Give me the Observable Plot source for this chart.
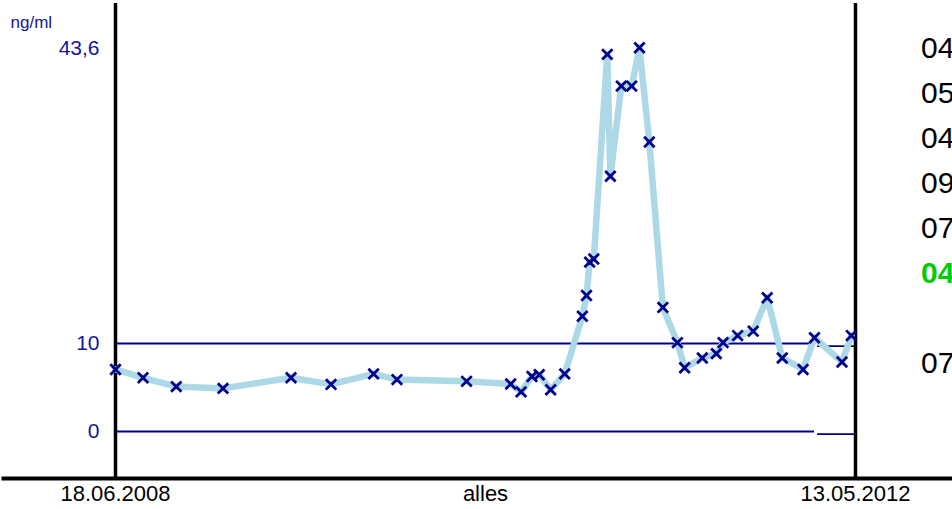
<!DOCTYPE html>
<html><head><meta charset="utf-8">
<script src="https://cdn.jsdelivr.net/npm/d3@7"></script>
<script src="https://cdn.jsdelivr.net/npm/@observablehq/plot@0.6"></script>
<style>
body{margin:0;background:#fff;font-family:Arial,"Liberation Sans",sans-serif;}
#wrap{position:relative;width:952px;height:509px;overflow:hidden;background:#fff;}
#wrap svg{position:absolute;left:0;top:0;}
#side{position:absolute;left:921px;top:25px;font-size:30px;line-height:45px;color:#000;white-space:pre;}
</style></head><body><div id="wrap"></div>
<script>
// ---- data ----
const dates = [
  "2008-06-18","2008-08-10","2008-10-13","2009-01-11","2009-05-22","2009-08-07","2009-10-28","2009-12-12",
  "2010-04-25","2010-07-19","2010-08-08","2010-08-29","2010-09-12","2010-10-04","2010-10-31","2010-12-04",
  "2010-12-12","2010-12-18","2010-12-26","2011-01-21","2011-01-27","2011-02-17","2011-03-09","2011-03-24",
  "2011-04-12","2011-05-08","2011-06-05","2011-06-19","2011-07-23","2011-08-19","2011-09-01","2011-09-29",
  "2011-10-29","2011-11-25","2011-12-24","2012-02-02","2012-02-24","2012-04-17","2012-05-05"
];
const values = [
  7.05, 6.1, 5.1, 4.9, 6.1, 5.35, 6.55, 5.9,
  5.7, 5.4, 4.5, 6.25, 6.45, 4.75, 6.55, 13.1,
  15.45, 19.25, 19.6, 42.85, 29.0, 39.25, 39.25, 43.6,
  32.9, 14.1, 10.1, 7.25, 8.35, 8.85, 10.1, 10.9,
  11.4, 15.2, 8.35, 7.05, 10.65, 7.9, 10.9
];
const xStart = "2008-06-18";
const xEnd = "2012-05-13";
const yTicks = [0, 10, 43.6];
const refStarts = ["2008-06-18", "2012-03-01"];
const refEnds = ["2012-02-24", "2012-05-13"];
const refLow = [0, -0.3];
const refHigh = [10, 9.7];
const unitLabel = "ng/ml";
const midLabel = "alles";
const sideLabels = ["04", "05", "04", "09", "07", "04", "", "07"];
const sideHighlight = [false, false, false, false, false, true, false, false];

// ---- build ----
const parse = d3.utcParse("%Y-%m-%d");
const data = dates.map((d, i) => ({date: parse(d), value: values[i]}));
const x0 = parse(xStart), x1 = parse(xEnd);
const xMid = new Date((+x0 + +x1) / 2);
const refs = refStarts.map((s, i) => ({x1: parse(s), x2: parse(refEnds[i]), lo: refLow[i], hi: refHigh[i]}));
const yFmt = d => d3.format(".1~f")(d).replace(".", ",");
const dFmt = d3.utcFormat("%d.%m.%Y");
const navy = "#000088";
const textBlue = "#15159a";
const font = "Arial, 'Liberation Sans', sans-serif";

const chart = Plot.plot({
  width: 952, height: 509,
  marginTop: 3, marginBottom: 31, marginLeft: 3, marginRight: 0,
  x: {type: "utc", domain: [x0, x1], range: [115, 855], axis: null},
  y: {domain: [0, 43.6], range: [431, 47.3], axis: null},
  style: {fontFamily: font, background: "white", overflow: "visible"},
  marks: [
    Plot.ruleY(refs, {x1: "x1", x2: "x2", y: "lo", stroke: navy, strokeWidth: 1.8}),
    Plot.ruleY(refs, {x1: "x1", x2: "x2", y: "hi", stroke: navy, strokeWidth: 1.8}),
    Plot.ruleX([x0, x1], {stroke: "black", strokeWidth: 3.5}),
    Plot.frame({anchor: "bottom", stroke: "black", strokeWidth: 4}),
    Plot.line(data, {x: "date", y: "value", stroke: "#ADD8E6", strokeWidth: 6.5, strokeLinejoin: "round"}),
    Plot.dot(data, {x: "date", y: "value", symbol: "times", r: 4.8, stroke: "#00008B", strokeWidth: 2.8}),
    Plot.text(yTicks, {x: () => x0, y: d => d, text: yFmt, dx: -16, textAnchor: "end", fill: textBlue, fontSize: 21}),
    Plot.text([unitLabel], {frameAnchor: "top-left", text: d => d, dx: 7, dy: 12, textAnchor: "start", fill: textBlue, fontSize: 17}),
    Plot.text([x0, x1], {x: d => d, text: dFmt, frameAnchor: "bottom", dy: 22, fill: "black", fontSize: 22}),
    Plot.text([midLabel], {x: () => xMid, text: d => d, frameAnchor: "bottom", dy: 22, fill: "black", fontSize: 22})
  ]
});
const wrap = document.getElementById("wrap");
wrap.appendChild(chart);
const side = document.createElement("div");
side.id = "side";
sideLabels.forEach((t, i) => {
  const row = document.createElement("div");
  row.textContent = t === "" ? "\u00a0" : t;
  if (sideHighlight[i]) { row.style.color = "#00cc00"; row.style.fontWeight = "bold"; }
  side.appendChild(row);
});
wrap.appendChild(side);
</script></body></html>
